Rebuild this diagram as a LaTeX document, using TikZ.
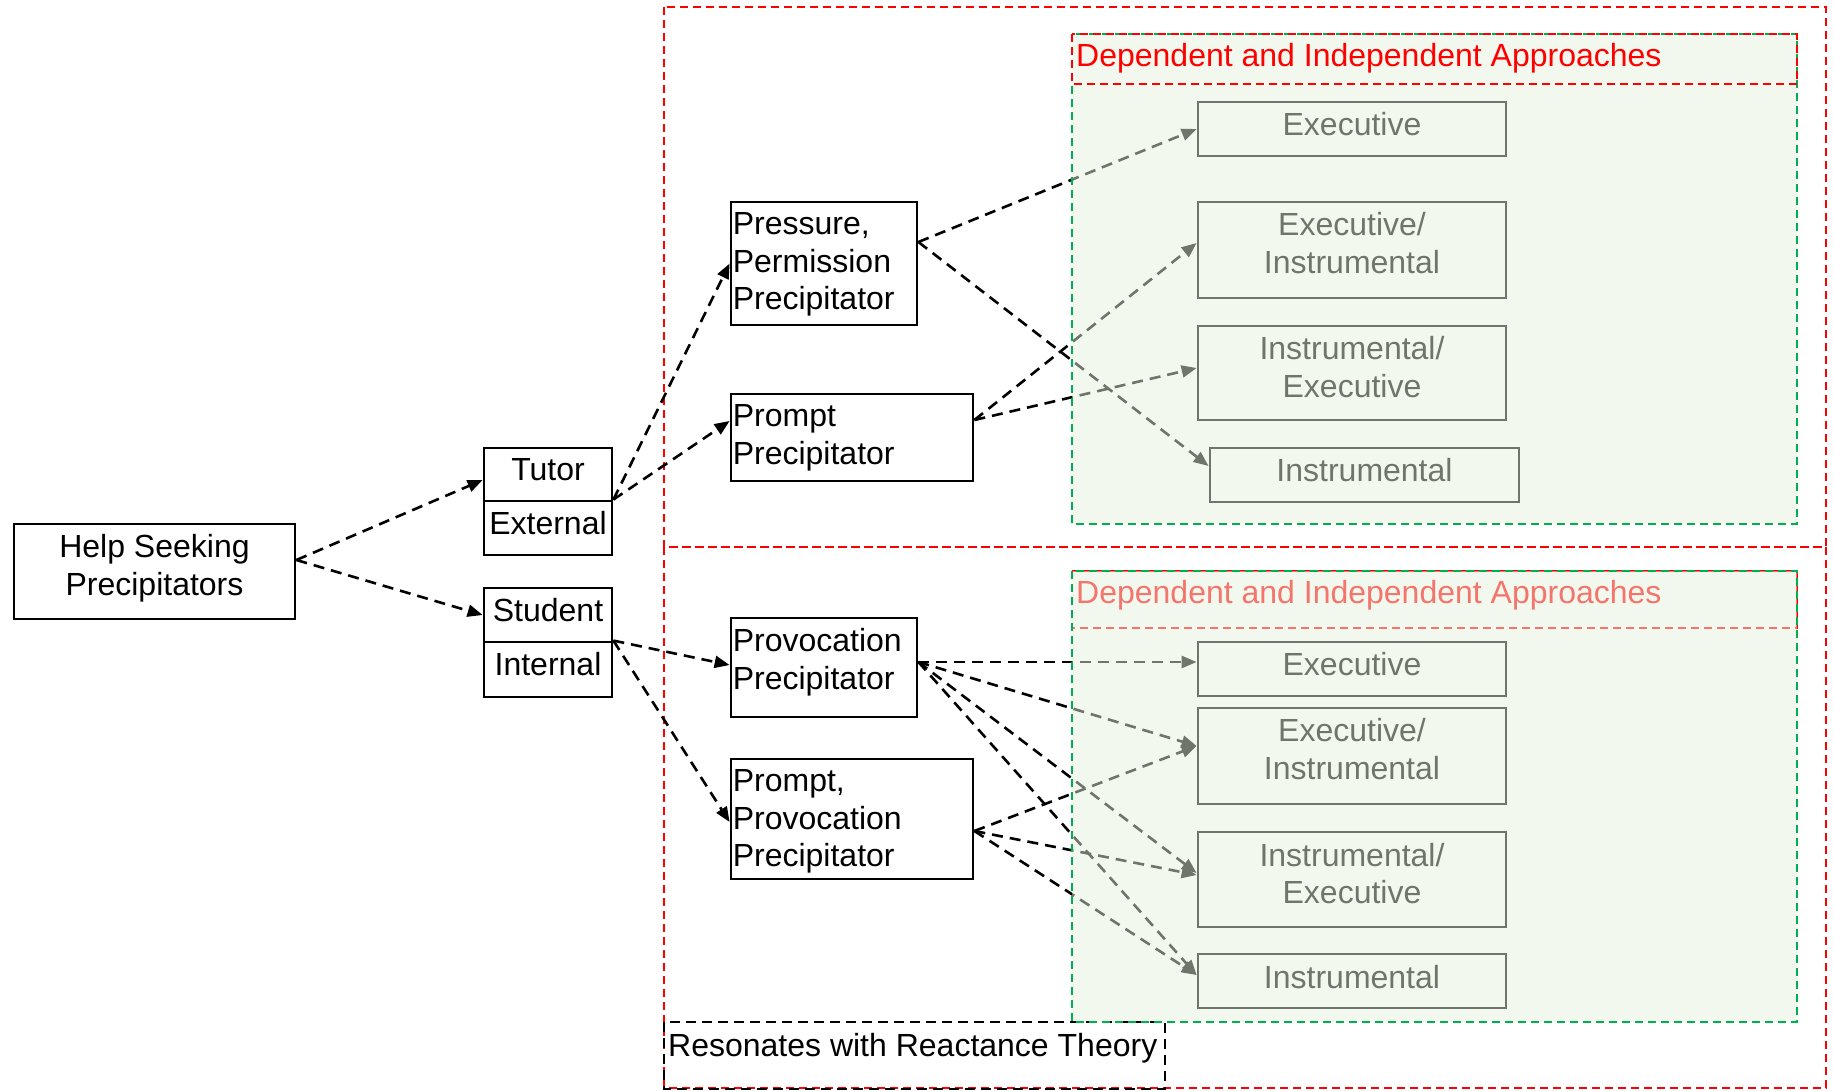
\documentclass[tikz,border=0pt]{standalone}
\usepackage{fontspec}
\setmainfont{Liberation Sans}
\usetikzlibrary{arrows.meta,calc}
\definecolor{frameRed}{RGB}{255,0,0}
\definecolor{frameGreen}{RGB}{0,176,80}
\definecolor{haze}{RGB}{231,241,223}
\begin{document}
\begin{tikzpicture}[x=1pt,y=-1pt,
  every node/.style={font=\fontsize{32}{37.4}\selectfont},
  box/.style={draw=black, line width=2.8pt, inner sep=0pt, rectangle},
  lbl/.style={inner sep=0pt, anchor=north, align=center},
  lbll/.style={inner sep=0pt, anchor=north west, align=left},
  link/.style={draw=black, line width=2.6pt, dash pattern=on 11pt off 7pt,
    -{Triangle[length=15pt,width=12pt]}},
  redframe/.style={draw=frameRed, line width=2.2pt, dash pattern=on 8pt off 5pt},
  greenframe/.style={draw=frameGreen, line width=2.2pt, dash pattern=on 8pt off 5pt},
  hazefill/.style={fill=haze, fill opacity=0.485, draw=none},
]
\useasboundingbox (0,0) rectangle (1834,1090);

% outer red frames
\draw[redframe] (664,7) rectangle (1826,547);
\draw[redframe] (664,547) rectangle (1826,1088);

% left column
\node[box, minimum width=281pt, minimum height=95pt] (help) at (154.5,571.5) {};
\node[lbl] at ([yshift=-12pt]help.north) {Help Seeking\\Precipitators};

\node[box, minimum width=128pt, minimum height=53pt] (tutor) at (548,474.5) {};
\node[lbl] at ([yshift=-12pt]tutor.north) {Tutor};
\node[box, minimum width=128pt, minimum height=54pt] (ext) at (548,528) {};
\node[lbl] at ([yshift=-12pt]ext.north) {External};
\node[box, minimum width=128pt, minimum height=54pt] (stud) at (548,615) {};
\node[lbl] at ([yshift=-12pt]stud.north) {Student};
\node[box, minimum width=128pt, minimum height=55pt] (intl) at (548,669.5) {};
\node[lbl] at ([yshift=-12pt]intl.north) {Internal};

% precipitator boxes
\node[box, minimum width=186pt, minimum height=123pt] (press) at (824,263.5) {};
\node[lbll] at ([xshift=3pt,yshift=-12pt]press.north west) {Pressure,\\Permission\\Precipitator};
\node[box, minimum width=242pt, minimum height=87pt] (prompt) at (852,437.5) {};
\node[lbll] at ([xshift=3pt,yshift=-12pt]prompt.north west) {Prompt\\Precipitator};
\node[box, minimum width=186pt, minimum height=99pt] (provo) at (824,667.5) {};
\node[lbll] at ([xshift=3pt,yshift=-12pt]provo.north west) {Provocation\\Precipitator};
\node[box, minimum width=242pt, minimum height=120pt] (pprov) at (852,819) {};
\node[lbll] at ([xshift=3pt,yshift=-12pt]pprov.north west) {Prompt,\\Provocation\\Precipitator};

% approach boxes, upper group
\node[box, minimum width=308pt, minimum height=54pt] (exA) at (1352,129) {};
\node[lbl] at ([yshift=-12pt]exA.north) {Executive};
\node[box, minimum width=308pt, minimum height=96pt] (eiA) at (1352,250) {};
\node[lbl] at ([yshift=-12pt]eiA.north) {Executive/\\Instrumental};
\node[box, minimum width=308pt, minimum height=94pt] (ieA) at (1352,373) {};
\node[lbl] at ([yshift=-12pt]ieA.north) {Instrumental/\\Executive};
\node[box, minimum width=309pt, minimum height=54pt] (inA) at (1364.5,475) {};
\node[lbl] at ([yshift=-12pt]inA.north) {Instrumental};

% approach boxes, lower group
\node[box, minimum width=308pt, minimum height=54pt] (exB) at (1352,669) {};
\node[lbl] at ([yshift=-12pt]exB.north) {Executive};
\node[box, minimum width=308pt, minimum height=96pt] (eiB) at (1352,756) {};
\node[lbl] at ([yshift=-12pt]eiB.north) {Executive/\\Instrumental};
\node[box, minimum width=308pt, minimum height=95pt] (ieB) at (1352,879.5) {};
\node[lbl] at ([yshift=-12pt]ieB.north) {Instrumental/\\Executive};
\node[box, minimum width=308pt, minimum height=54pt] (inB) at (1352,981) {};
\node[lbl] at ([yshift=-12pt]inB.north) {Instrumental};

% connector end points
\coordinate (helpOut) at ([yshift=11.5pt]help.east);
\coordinate (pressOut) at ([yshift=21.5pt]press.east);
\coordinate (promptOut) at ([yshift=17.5pt]prompt.east);
\coordinate (provoOut) at ([yshift=5.5pt]provo.east);
\coordinate (pprovOut) at ([yshift=-12pt]pprov.east);
\coordinate (eiBIn) at ([yshift=10pt]eiB.west);
\coordinate (inBIn) at ([yshift=6pt]inB.west);

% connectors
\draw[link] (helpOut) -- ([yshift=-5.5pt]tutor.west);
\draw[link] (helpOut) -- (stud.west);
\draw[link] (ext.north east) -- (press.west);
\draw[link] (ext.north east) -- ([yshift=16.5pt]prompt.west);
\draw[link] (intl.north east) -- ([yshift=2.5pt]provo.west);
\draw[link] (intl.north east) -- ([yshift=-3pt]pprov.west);
\draw[link] (pressOut) -- (exA.west);
\draw[link] (pressOut) -- ([yshift=9pt]inA.west);
\draw[link] (promptOut) -- ([yshift=7pt]eiA.west);
\draw[link] (promptOut) -- ([yshift=5pt]ieA.west);
\draw[link] (provoOut) -- ([yshift=7pt]exB.west);
\draw[link] (provoOut) -- (eiBIn);
\draw[link] (provoOut) -- ([yshift=6.5pt]ieB.west);
\draw[link] (provoOut) -- (inBIn);
\draw[link] (pprovOut) -- (eiBIn);
\draw[link] (pprovOut) -- ([yshift=4.5pt]ieB.west);
\draw[link] (pprovOut) -- (inBIn);

% lower heading, beneath the tinted panel
\draw[redframe] (1072,571) rectangle (1797,628);
\node[anchor=base west, inner sep=0pt, text=frameRed] (hdB) at (1076,603)
  {Dependent and Independent Approaches};

% tinted panels
\fill[hazefill] (1072,34) rectangle (1797,524);
\fill[hazefill] (1072,571) rectangle (1797,1022);

% theory box
\draw[draw=black, line width=2.5pt, dash pattern=on 10pt off 6pt] (664,1022) rectangle (1165,1089);
\node[anchor=base west, inner sep=0pt] (theory) at (668,1056) {Resonates with Reactance Theory};

% panel borders
\draw[greenframe] (1072,34) rectangle (1797,524);
\draw[greenframe] (1072,571) rectangle (1797,1022);

% upper heading, above the tinted panel
\draw[redframe] (1072,34) rectangle (1797,84);
\node[anchor=base west, inner sep=0pt, text=frameRed] (hdA) at (1076,66)
  {Dependent and Independent Approaches};
\end{tikzpicture}
\end{document}
